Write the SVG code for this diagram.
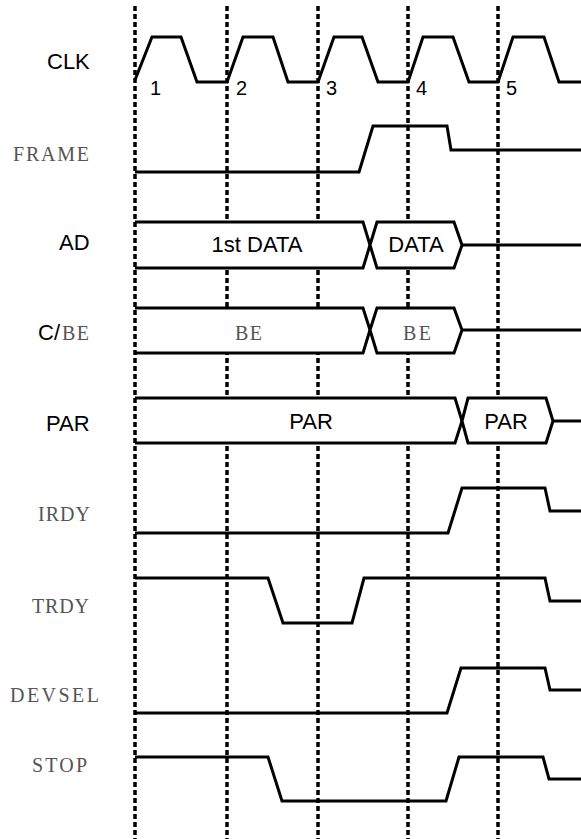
<svg xmlns="http://www.w3.org/2000/svg" width="581" height="839" viewBox="0 0 581 839">
<style>
.sig{fill:none;stroke:#000;stroke-width:3;stroke-linejoin:miter}
.bus{fill:#fff;stroke:#000;stroke-width:3;stroke-linejoin:miter}
.grid{stroke:#000;stroke-width:3.5;stroke-dasharray:5 3}
.lbl{font-family:"Liberation Sans",Arial,sans-serif;font-size:22px;fill:#000}
.num{font-family:"Liberation Sans",Arial,sans-serif;font-size:20px;fill:#000}
.mono{font-family:"Liberation Serif","Times New Roman",serif;font-size:20px;fill:#555}
</style>
<rect width="581" height="839" fill="#fff"/>
<g id="grid">
<line class="grid" x1="227" y1="6" x2="227" y2="839"/>
<line class="grid" x1="318" y1="6" x2="318" y2="839"/>
<line class="grid" x1="408" y1="6" x2="408" y2="839"/>
<line class="grid" x1="498" y1="6" x2="498" y2="839"/>
</g>
<g id="labels">
<text class="lbl" x="47" y="69">CLK</text>
<text class="mono" x="13" y="161" textLength="76" lengthAdjust="spacing">FRAME</text>
<text class="lbl" x="59" y="250">AD</text>
<text class="lbl" x="38" y="340">C/</text>
<text class="mono" x="62" y="340" textLength="27" lengthAdjust="spacing">BE</text>
<text class="lbl" x="46" y="431">PAR</text>
<text class="mono" x="38" y="521" textLength="52" lengthAdjust="spacing">IRDY</text>
<text class="mono" x="32" y="613" textLength="57" lengthAdjust="spacing">TRDY</text>
<text class="mono" x="10" y="702" textLength="89" lengthAdjust="spacing">DEVSEL</text>
<text class="mono" x="32" y="772" textLength="55" lengthAdjust="spacing">STOP</text>
</g>
<g id="clk">
<path class="sig" d="M135,80 L152,37 H181 L197,82 H227 L243,37 H273 L288,82 H318 L334,37 H362 L378,82 H408 L423,37 H453 L469,82 H498 L513,37 H544 L559,82 H581"/>
<text class="num" x="150" y="95">1</text>
<text class="num" x="236" y="95">2</text>
<text class="num" x="326" y="95">3</text>
<text class="num" x="416" y="95">4</text>
<text class="num" x="506" y="95">5</text>
</g>
<g id="frame">
<path class="sig" d="M135,172 H359 L373,126 H447 L451,150 H581"/>
</g>
<g id="ad">
<path class="bus" d="M135,222 H363 L370,245 L363,268 H135"/>
<path class="bus" d="M370,245 L377,222 H454 L462,245 L454,268 H377 Z"/>
<path class="sig" d="M462,245 H581"/>
<text class="lbl" x="257" y="252" text-anchor="middle">1st DATA</text>
<text class="lbl" x="416" y="252" text-anchor="middle">DATA</text>
</g>
<g id="cbe">
<path class="bus" d="M135,308 H363 L370,330 L363,353 H135"/>
<path class="bus" d="M370,330 L377,308 H454 L462,330 L454,353 H377 Z"/>
<path class="sig" d="M462,330 H581"/>
<text class="mono" x="235" y="340" textLength="27" lengthAdjust="spacing">BE</text>
<text class="mono" x="403" y="340" textLength="28" lengthAdjust="spacing">BE</text>
</g>
<g id="par">
<path class="bus" d="M135,398 H455 L462,421 L455,443 H135"/>
<path class="bus" d="M462,421 L468,398 H546 L553,421 L546,443 H468 Z"/>
<path class="sig" d="M553,421 H581"/>
<text class="lbl" x="311" y="429" text-anchor="middle">PAR</text>
<text class="lbl" x="506" y="429" text-anchor="middle">PAR</text>
</g>
<g id="irdy">
<path class="sig" d="M135,533 H448 L462,488 H545 L550,511 H581"/>
</g>
<g id="trdy">
<path class="sig" d="M135,578 H268 L283,623 H352 L364,578 H545 L550,601 H581"/>
</g>
<g id="devsel">
<path class="sig" d="M135,713 H447 L461,668 H545 L550,690 H581"/>
</g>
<g id="stop">
<path class="sig" d="M135,757 H268 L282,801 H446 L459,757 H543 L549,779 H581"/>
</g>
<g id="grid1">
<line class="grid" x1="135" y1="6" x2="135" y2="839"/>
</g>
</svg>
